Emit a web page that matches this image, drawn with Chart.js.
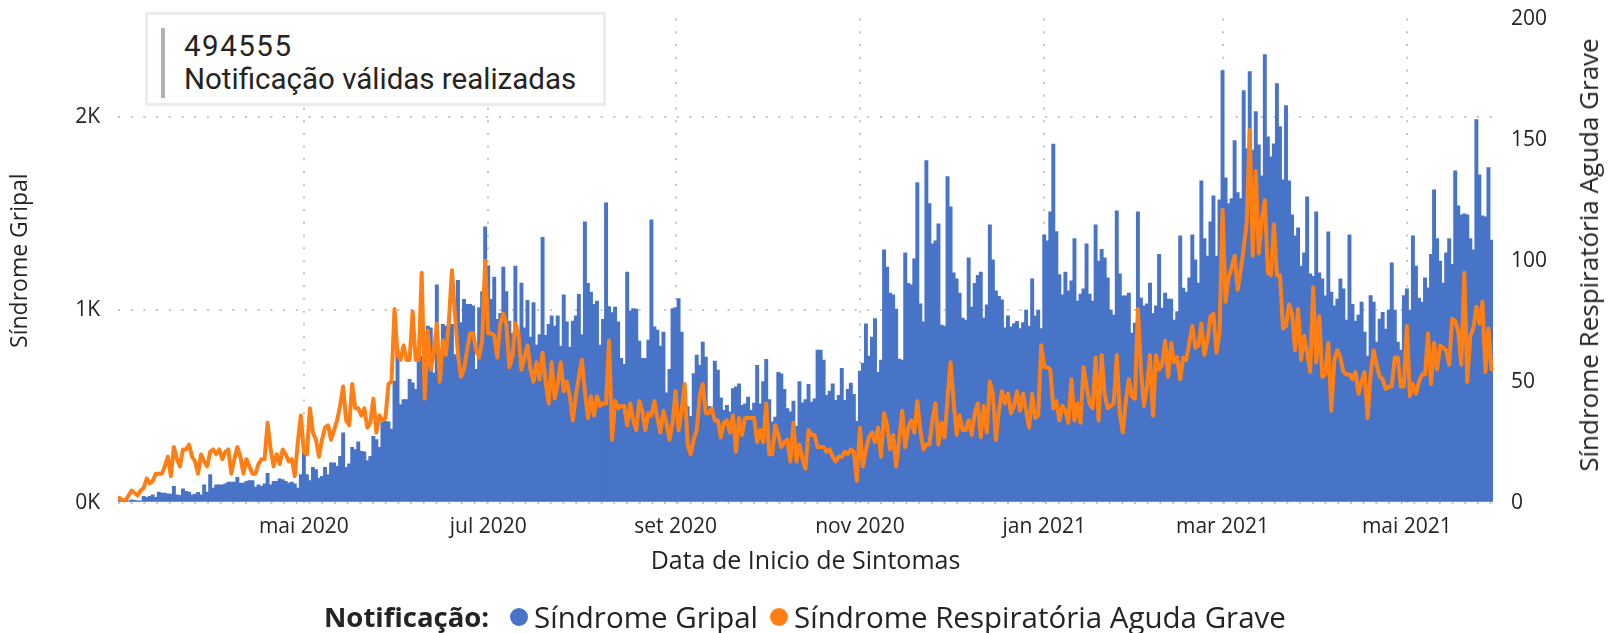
<!DOCTYPE html>
<html lang="pt-BR">
<head>
<meta charset="utf-8">
<title>Notificações</title>
<script src="https://cdn.jsdelivr.net/npm/chart.js@4.4.1/dist/chart.umd.min.js"></script>
<style>
  html, body { margin: 0; padding: 0; background: #fff; }
  body { width: 1612px; height: 633px; position: relative; overflow: hidden; font-family: "Open Sans", sans-serif; color: #252423; }
  #grafico { position: absolute; left: 0; top: 0; }
  .cartao { position: absolute; left: 145px; top: 12px; width: 455px; height: 88px; border: 3px solid #ececec; background: #fff; }
  .cartao .faixa { position: absolute; left: 13px; top: 13px; width: 4px; height: 70px; background: #b3b0ad; }
  .cartao .num { position: absolute; left: 36px; top: 15px; font: 29.5px Roboto, sans-serif; letter-spacing: 1.5px; line-height: 32px; }
  .cartao .txt { position: absolute; left: 36px; top: 48px; font: 29.5px Roboto, sans-serif; line-height: 32px; }
  .titulo-dir { position: absolute; left: 1588px; top: 255px; transform: translate(-50%, -50%) rotate(-90deg); white-space: nowrap; font-size: 26px; color: #252423; }
  .legenda { position: absolute; left: 324px; top: 599px; display: flex; align-items: center; white-space: nowrap; font-size: 29.5px; line-height: 36px; }
  .legenda b { margin-right: 21px; font-size: 27.5px; }
  .legenda .ponto { width: 18px; height: 18px; border-radius: 50%; display: inline-block; margin-right: 6px; }
  .legenda .item { display: flex; align-items: center; margin-right: 12px; }
</style>
</head>
<body>
<canvas id="grafico" width="1612" height="633"></canvas>
<div class="cartao"><div class="faixa"></div><div class="num">494555</div><div class="txt">Notificação válidas realizadas</div></div>
<div class="titulo-dir">Síndrome Respiratória Aguda Grave</div>
<div class="legenda"><b>Notificação:</b>
  <span class="item"><span class="ponto" style="background:#4874C8"></span>Síndrome Gripal</span>
  <span class="item"><span class="ponto" style="background:#FF7F14"></span>Síndrome Respiratória Aguda Grave</span>
</div>
<script>
// primeiro dia da série: 1 mar 2020 (um valor por dia até 29 mai 2021)
var inicio = new Date(2020, 2, 1);

// Síndrome Gripal (eixo esquerdo)
var gripal = [
  17,12,17,12,17,14,12,12,35,29, 35,43,29,57,52,52,48,47,87,43,
  40,74,61,57,43,47,55,43,95,57, 147,78,95,95,95,99,109,109,109,133,
  104,104,113,116,116,83,95,87,100,154, 95,113,113,126,121,113,104,109,99,78,
  147,260,147,116,185,173,130,139,185,147, 208,208,190,242,364,185,203,289,277,317,
  268,265,220,242,346,329,289,421,424,421, 384,632,797,511,537,537,641,623,589,788,
  762,762,918,909,675,1131,693,926,918,952, 926,770,1155,935,1056,1030,1030,1022,693,1013,
  1096,1432,1230,1056,1172,952,983,1224,1096,944, 880,1229,883,1141,909,1051,861,1039,819,874,
  1377,870,926,970,918,970,814,1079,940,809, 944,970,1082,874,1458,1139,1094,1030,1047,819,
  952,1557,1018,987,1016,940,750,719,1198,996, 1008,1005,840,750,750,845,1468,914,897,814,
  887,571,693,1008,1013,1060,887,566,500,450, 671,767,714,835,757,502,480,736,689,545,
  481,507,473,594,602,618,507,514,549,481, 518,714,514,630,745,537,421,445,678,670,
  589,490,473,528,398,630,519,537,615,523, 540,793,793,741,559,580,618,533,559,698,
  533,589,622,563,424,684,726,929,762,861, 956,678,741,1313,1224,1089,1079,1006,746,741,
  1297,1139,1131,1266,1661,1033,939,1775,1552,1344, 1359,1448,923,918,1692,1536,1193,1162,1089,959,
  949,1271,1016,1139,1180,1198,959,1027,1443,1261, 1100,1072,1053,909,970,914,931,942,904,935,
  1000,918,1162,970,1000,904,1390,1359,1510,1861, 1407,1185,1079,1198,1100,1152,1371,1047,1084,1110,
  1344,1084,1047,1442,1255,1316,1271,1168,1000,975, 1515,1188,1074,1074,1089,881,933,1510,1063,1022,
  1033,1141,982,1022,1290,1011,1089,1058,1058,949, 993,1385,1115,1094,1168,1390,1261,1141,1671,1371,
  1281,1458,1593,1281,1572,2242,1686,1553,1578,1879, 1610,1578,2138,1836,2237,1830,2030,1857,1697,2325,
  1899,1795,1862,2175,1952,1676,2061,1671,1494,1385, 1427,1229,1297,1588,1188,1176,1510,1193,1162,1074,
  1406,1094,1022,1058,1162,1110,949,1390,1030,944, 975,1042,887,762,1075,1042,835,954,989,902,
  1000,1245,1000,834,793,1075,1110,1000,1385,1229, 1063,1042,1168,1116,1290,1624,1371,1255,1141,1297,
  1371,1238,1723,1541,1494,1499,1494,1371,1313,1988, 1702,1489,1484,1739,1364
];

// Síndrome Respiratória Aguda Grave (eixo direito)
var srag = [
  2,1,1,3,5,4,3,5,6,10, 8,9,12,12,12,15,19,11,23,18,
  15,22,22,24,19,17,12,20,17,15, 21,22,20,22,18,21,22,12,18,23,
  19,12,18,15,12,12,16,18,18,33, 22,15,20,16,22,20,17,18,11,25,
  36,21,20,39,29,26,19,26,31,32, 26,30,34,40,48,34,32,49,39,39,
  36,39,31,33,43,29,36,34,35,49, 50,80,61,59,65,59,59,79,59,59,
  95,43,71,55,62,74,50,67,61,75, 96,78,61,52,55,63,70,70,63,60,
  67,100,70,70,69,60,74,78,74,56, 60,74,70,55,60,65,55,50,58,51,
  62,50,41,58,43,49,58,46,50,44, 34,44,52,59,46,35,44,36,44,40,
  41,41,67,26,42,39,40,40,32,41, 34,30,42,38,30,37,36,42,35,29,
  38,33,26,33,46,30,38,49,24,20, 26,30,44,49,37,37,39,34,34,27,
  33,34,29,36,21,35,28,35,35,35, 35,25,30,25,41,20,20,32,28,23,
  25,26,17,33,17,24,18,14,30,28, 28,23,23,23,21,22,19,17,19,19,
  21,20,22,21,9,31,15,22,27,29, 25,31,19,37,32,22,28,15,26,38,
  23,31,34,29,42,30,22,24,24,34, 41,24,33,27,43,58,42,28,36,30,
  30,34,28,37,41,27,40,29,50,45, 26,38,46,41,45,37,40,46,38,45,
  38,31,45,35,36,65,56,56,55,39, 42,34,40,38,33,51,34,41,33,56,
  48,41,39,60,34,61,45,39,40,41, 61,37,29,42,51,44,43,80,55,40,
  48,61,36,61,55,57,67,52,66,58, 60,51,60,59,66,73,64,65,74,61,
  67,77,78,62,70,121,83,93,97,102, 88,96,105,116,154,102,137,103,117,125,
  95,94,115,94,94,72,73,82,78,63, 80,59,69,62,54,89,58,77,52,53,
  66,38,59,63,60,54,53,53,51,54, 45,50,54,35,53,63,57,52,51,47,
  48,48,60,60,48,48,73,44,49,45, 50,53,53,70,49,66,55,65,64,63,
  57,76,75,71,57,95,50,69,72,81, 74,83,54,72,55
];

// marcas do eixo x (primeiro dia do mês)
var datasMarca = ['2020-05-01','2020-07-01','2020-09-01','2020-11-01','2021-01-01','2021-03-01','2021-05-01'];
var rotulosMarca = ['mai 2020','jul 2020','set 2020','nov 2020','jan 2021','mar 2021','mai 2021'];

var ticksEsq = [0, 1000, 2000];
var ticksDir = [0, 50, 100, 150, 200];

function iso(d) {
  var m = d.getMonth() + 1, dia = d.getDate();
  return d.getFullYear() + '-' + (m < 10 ? '0' : '') + m + '-' + (dia < 10 ? '0' : '') + dia;
}
var dias = [];
for (var i = 0; i < gripal.length; i++) {
  var d = new Date(inicio.getFullYear(), inicio.getMonth(), inicio.getDate() + i);
  dias.push(iso(d));
}
var idxMarca = datasMarca.map(function (s) { return dias.indexOf(s); });

var fonte = 'Open Sans';
var corTexto = '#252423';
var corGrade = '#c4c4c4';
var topoArea = 18.6;
var margem = { top: topoArea, left: 0, right: 0, bottom: 0 };

var ctx = document.getElementById('grafico').getContext('2d');
var grafico = new Chart(ctx, {
  data: {
    labels: dias,
    datasets: [
      {
        type: 'line',
        label: 'Síndrome Respiratória Aguda Grave',
        data: srag,
        yAxisID: 'y1',
        borderColor: '#FF7F14',
        borderWidth: 4,
        pointRadius: 0,
        tension: 0,
        borderJoinStyle: 'round',
        borderCapStyle: 'round',
        order: 0
      },
      {
        type: 'bar',
        label: 'Síndrome Gripal',
        data: gripal,
        yAxisID: 'y',
        backgroundColor: '#4874C8',
        borderWidth: 0,
        barPercentage: 1.3,
        categoryPercentage: 1,
        order: 1
      }
    ]
  },
  options: {
    responsive: false,
    animation: false,
    layout: { padding: margem },
    plugins: { legend: { display: false }, tooltip: { enabled: false } },
    scales: {
      x: {
        type: 'category',
        offset: true,
        grid: { display: true, offset: false, color: corGrade, lineWidth: 2, drawTicks: false },
        border: { display: false, dash: [2, 10.7] },
        afterBuildTicks: function (s) { s.ticks = idxMarca.map(function (v) { return { value: v }; }); },
        afterFit: function (s) { s.height = 130.3; s.paddingLeft = 0; s.paddingRight = 0; },
        ticks: {
          autoSkip: false, maxRotation: 0, minRotation: 0, padding: 12,
          color: corTexto, font: { family: fonte, size: 21 },
          callback: function (v, i) { return rotulosMarca[i]; }
        },
        title: {
          display: true, text: 'Data de Inicio de Sintomas', color: corTexto,
          font: { family: fonte, size: 25 }, padding: { top: 0, bottom: 56 }
        }
      },
      y: {
        position: 'left',
        min: 0, max: 2510,
        afterBuildTicks: function (s) { s.ticks = ticksEsq.map(function (v) { return { value: v }; }); },
        afterFit: function (s) { s.width = 118; s.paddingTop = 0; s.paddingBottom = 0; },
        grid: { color: corGrade, lineWidth: 2, drawTicks: false },
        border: { display: false, dash: [2, 10.7] },
        ticks: {
          padding: 18, color: corTexto, font: { family: fonte, size: 21 },
          callback: function (v) { return (v / 1000) + 'K'; }
        },
        title: {
          display: true, text: 'Síndrome Gripal', color: corTexto,
          font: { family: fonte, size: 23 }, padding: { top: 7, bottom: 0 }
        }
      },
      y1: {
        position: 'right',
        min: 0, max: 200,
        afterBuildTicks: function (s) { s.ticks = ticksDir.map(function (v) { return { value: v }; }); },
        afterFit: function (s) { s.width = 119; s.paddingTop = 0; s.paddingBottom = 0; },
        grid: { display: false, drawTicks: false },
        border: { display: false },
        ticks: { padding: 18, color: corTexto, font: { family: fonte, size: 21 } }
      }
    }
  }
});

// ajusta o topo dos eixos verticais
for (var k = 0; k < 5; k++) {
  var dif = grafico.scales.y.top - topoArea;
  if (Math.abs(dif) < 0.2) break;
  margem.top = Math.max(0, margem.top - dif);
  grafico.update();
}
</script>
</body>
</html>
